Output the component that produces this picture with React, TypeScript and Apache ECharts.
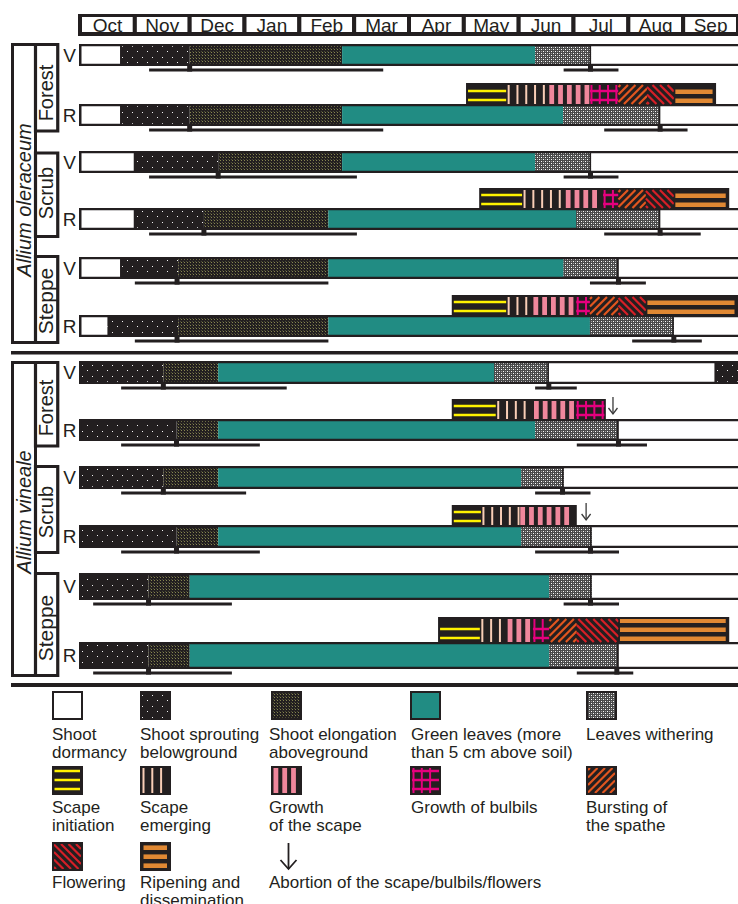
import React, { useEffect, useRef } from 'react';
import * as echarts from 'echarts';

// ---------- data ----------
const MONTHS = ['Oct', 'Nov', 'Dec', 'Jan', 'Feb', 'Mar', 'Apr', 'May', 'Jun', 'Jul', 'Aug', 'Sep'];
const SPECIES = ['Allium oleraceum', 'Allium vineale'];
const HABITATS = ['Forest', 'Scrub', 'Steppe'];
const ROW_TYPES = ['V', 'R', 'V', 'R', 'V', 'R', 'V', 'R', 'V', 'R', 'V', 'R'];

// phase codes: 0 dormancy, 1 sprouting, 2 elongation, 3 green leaves, 4 withering,
// 5 scape initiation, 6 scape emerging, 7 growth of scape, 8 bulbils, 9 bursting, 10 flowering, 11 ripening
const PHASE_LABELS = [
  'Shoot\ndormancy', 'Shoot sprouting\nbelowground', 'Shoot elongation\naboveground',
  'Green leaves (more\nthan 5 cm above soil)', 'Leaves withering',
  'Scape\ninitiation', 'Scape\nemerging', 'Growth\nof the scape', 'Growth of bulbils',
  'Bursting of\nthe spathe', 'Flowering', 'Ripening and\ndissemination',
];
const ABORTION_LABEL = 'Abortion of the scape/bulbils/flowers';

// vegetative phases per row: [start month, end month, phase] (months counted from 1 Oct)
const vegOleForestV = [[0.73, 2.0, 1], [2.0, 4.78, 2], [4.78, 8.3, 3], [8.3, 9.32, 4]];
const vegOleForestR = [[0.73, 2.0, 1], [2.0, 4.78, 2], [4.78, 8.81, 3], [8.81, 10.58, 4]];
const vegOleScrubV = [[0.98, 2.52, 1], [2.52, 4.78, 2], [4.78, 8.3, 3], [8.3, 9.32, 4]];
const vegOleScrubR = [[0.98, 2.26, 1], [2.26, 4.53, 2], [4.53, 9.05, 3], [9.05, 10.58, 4]];
const vegOleSteppeV = [[0.73, 1.79, 1], [1.79, 4.53, 2], [4.53, 8.82, 3], [8.82, 9.82, 4]];
const vegOleSteppeR = [[0.5, 1.79, 1], [1.79, 4.53, 2], [4.53, 9.3, 3], [9.3, 10.83, 4]];
const vegVinForestV = [[0, 1.52, 1], [1.52, 2.52, 2], [2.52, 7.55, 3], [7.55, 8.55, 4], [11.57, 12, 1]];
const vegVinForestR = [[0, 1.76, 1], [1.76, 2.52, 2], [2.52, 8.3, 3], [8.3, 9.82, 4]];
const vegVinScrubV = [[0, 1.52, 1], [1.52, 2.52, 2], [2.52, 8.05, 3], [8.05, 8.82, 4]];
const vegVinScrubR = [[0, 1.76, 1], [1.76, 2.52, 2], [2.52, 8.05, 3], [8.05, 9.33, 4]];
const vegVinSteppeV = [[0, 1.25, 1], [1.25, 2.0, 2], [2.0, 8.56, 3], [8.56, 9.33, 4]];
const vegVinSteppeR = [[0, 1.25, 1], [1.25, 2.0, 2], [2.0, 8.56, 3], [8.56, 9.82, 4]];
const VEG = [vegOleForestV, vegOleForestR, vegOleScrubV, vegOleScrubR, vegOleSteppeV, vegOleSteppeR,
  vegVinForestV, vegVinForestR, vegVinScrubV, vegVinScrubR, vegVinSteppeV, vegVinSteppeR];

// reproductive (scape) phases for R rows
const repOleForestR = [[7.04, 7.79, 5], [7.79, 8.55, 6], [8.55, 9.3, 7], [9.3, 9.82, 8], [9.82, 10.34, 9], [10.34, 10.83, 10], [10.83, 11.6, 11]];
const repOleScrubR = [[7.28, 8.08, 5], [8.08, 8.85, 6], [8.85, 9.54, 7], [9.54, 9.82, 8], [9.82, 10.32, 9], [10.32, 10.83, 10], [10.83, 11.84, 11]];
const repOleSteppeR = [[6.78, 7.79, 5], [7.79, 8.26, 6], [8.26, 9.05, 7], [9.05, 9.3, 8], [9.3, 9.82, 9], [9.82, 10.32, 10], [10.32, 12, 11]];
const repVinForestR = [[6.78, 7.6, 5], [7.6, 8.27, 6], [8.27, 9.05, 7], [9.05, 9.59, 8]];
const repVinScrubR = [[6.78, 7.33, 5], [7.33, 8.02, 6], [8.02, 9.06, 7]];
const repVinSteppeR = [[6.53, 7.31, 5], [7.31, 7.79, 6], [7.79, 8.26, 7], [8.26, 8.56, 8], [8.56, 9.06, 9], [9.06, 9.82, 10], [9.82, 11.84, 11]];
const REP: (number[][] | null)[] = [null, repOleForestR, null, repOleScrubR, null, repOleSteppeR,
  null, repVinForestR, null, repVinScrubR, null, repVinSteppeR];

// ranges [min, mean, max] of sprouting start and withering end
const sproutRange = [[1.26, 2.0, 5.53], [1.26, 2.0, 5.53], [1.26, 2.52, 5.05], [1.26, 2.26, 5.05], [1.0, 1.77, 4.53], [1.0, 1.77, 4.53],
  [0.75, 1.52, 3.77], [0.75, 1.76, 3.28], [0.75, 1.52, 3.03], [0.75, 1.76, 3.28], [0.24, 1.25, 2.77], [0.24, 1.25, 2.77]];
const witherRange = [[8.82, 9.31, 9.82], [9.56, 10.58, 11.08], [8.82, 9.31, 9.82], [9.56, 10.58, 11.32], [9.3, 9.82, 10.32], [10.07, 10.83, 11.34],
  [8.3, 8.55, 9.06], [9.06, 9.82, 10.34], [8.3, 8.8, 9.31], [8.3, 9.31, 9.83], [8.82, 9.31, 9.83], [9.06, 9.79, 10.09]];

// abortion arrows
const abortionRow = [7, 9];
const abortionMonth = [9.72, 9.23];

// ---------- layout (pixels) ----------
const ROW_TOP = [44, 104, 151, 208, 257, 315, 361, 419, 466, 525, 573, 642];
const ROW_BOTTOM = [66, 126, 173, 230, 279, 337, 384, 441, 489, 548, 600, 669];
const SCAPE_TOP = [0, 83, 0, 188, 0, 295, 0, 399, 0, 505, 0, 617];

const INK = '#231f20';
const TEAL = '#218c83';
const YELLOW = '#fff200';
const PALE = '#f8cdb6';
const PINK = '#f0879c';
const MAGENTA = '#e6007e';
const ORANGE_D = '#e2561f';
const RED_D = '#d71f27';
const RIPE = '#e08833';
const FONT = '"Liberation Sans", Arial, Helvetica, sans-serif';

function pattern(w: number, h: number, draw: (c: CanvasRenderingContext2D) => void) {
  const cv = document.createElement('canvas');
  cv.width = w; cv.height = h;
  const ctx = cv.getContext('2d')!;
  draw(ctx);
  return { image: cv.toDataURL(), repeat: 'repeat', imageWidth: w, imageHeight: h };
}

function makeDecorator(P: any) {
  const R = (x: number, y: number, w: number, h: number, fill: any) =>
    ({ type: 'rect', shape: { x, y, width: Math.max(0, w), height: Math.max(0, h) }, style: { fill }, silent: true });
  const L = (x1: number, y1: number, x2: number, y2: number, stroke: string, lw: number) =>
    ({ type: 'line', shape: { x1, y1, x2, y2 }, style: { stroke, lineWidth: lw }, silent: true });
  const hLines = (y0: number, y1: number) => {
    const ys: number[] = [];
    for (let yc = y1 - 4; yc - 1.25 >= y0; yc -= 9) ys.push(yc);
    return ys;
  };
  const diag = (x0: number, y0: number, x1: number, y1: number, dir: number, color: string, out: any[]) => {
    const step = 7.5, lw = 2.2;
    if (dir > 0) {
      for (let c = x0 + y0 + 2; c < x1 + y1; c += step) {
        const xa = Math.max(x0, c - y1), xb = Math.min(x1, c - y0);
        if (xb - xa > 0.5) out.push(L(xa, c - xa, xb, c - xb, color, lw));
      }
    } else {
      for (let c = x0 - y1 + 2; c < x1 - y0; c += step) {
        const xa = Math.max(x0, c + y0), xb = Math.min(x1, c + y1);
        if (xb - xa > 0.5) out.push(L(xa, xa - c, xb, xb - c, color, lw));
      }
    }
  };
  return function decorate(ph: number, x0: number, y0: number, x1: number, y1: number) {
    const w = x1 - x0, h = y1 - y0;
    const out: any[] = [];
    if (w <= 0 || h <= 0) return out;
    if (ph === 0) { out.push(R(x0, y0, w, h, '#ffffff')); return out; }
    if (ph === 3) { out.push(R(x0, y0, w, h, TEAL)); return out; }
    out.push(R(x0, y0, w, h, INK));
    switch (ph) {
      case 1: out.push(R(x0, y0, w, h, P.dots)); break;
      case 2: out.push(R(x0, y0, w, h, P.olive)); break;
      case 4: out.push(R(x0, y0, w, h, P.wither)); break;
      case 5: hLines(y0, y1).forEach((yc) => out.push(R(x0 + 0.5, yc - 1.25, w - 1.5, 2.5, YELLOW))); break;
      case 6: for (let x = x0 + 0.5; x + 2 <= x1; x += 8.8) out.push(R(x, y0, 2, h, PALE)); break;
      case 7: for (let x = x0 + 0.5; x + 4 <= x1; x += 8.8) out.push(R(x, y0, Math.min(4.8, x1 - x), h, PINK)); break;
      case 8:
        for (let x = x0 + 0.5; x + 2 <= x1; x += 8.3) out.push(R(x, y0, 2, h, MAGENTA));
        hLines(y0, y1).forEach((yc) => out.push(R(x0, yc - 1.25, w, 2.5, MAGENTA)));
        break;
      case 9: diag(x0, y0, x1, y1, 1, ORANGE_D, out); break;
      case 10: diag(x0, y0, x1, y1, -1, RED_D, out); break;
      case 11:
        for (let yc = y1 - 3.3; yc + 2.3 > y0; yc -= 9) {
          const t = Math.max(y0, yc - 2.3), b = Math.min(y1 - 0.5, yc + 2.3);
          if (b > t) out.push(R(x0 + 1.5, t, w - 3.5, b - t, RIPE));
        }
        break;
    }
    return out;
  };
}

export default function App() {
  const ref = useRef<HTMLDivElement>(null);
  useEffect(() => {
    if (!ref.current) return;
    const chart = echarts.init(ref.current, null, { renderer: 'svg' });

    const P = {
      dots: pattern(10, 11, (c) => { c.fillStyle = '#f2f2f2'; c.fillRect(2, 2, 1, 1); c.fillRect(7, 7, 1, 1); }),
      olive: pattern(3, 3, (c) => { c.fillStyle = '#85854f'; c.fillRect(1, 1, 1, 1); c.fillStyle = '#4e4e35'; c.fillRect(0, 0, 1, 1); }),
      wither: pattern(4, 4, (c) => {
        c.fillStyle = '#4a4a4a'; c.fillRect(0, 0, 4, 4);
        c.fillStyle = '#ffffff'; c.fillRect(1, 1, 1, 1); c.fillRect(3, 3, 1, 1);
        c.fillStyle = '#a0a0a0'; c.fillRect(1, 3, 1, 1); c.fillRect(3, 1, 1, 1);
      }),
    };
    const decorate = makeDecorator(P);

    const textStyle = (text: string, font: string, align = 'center', vAlign = 'middle', extra: any = {}) => ({
      text, font, fill: INK, align, verticalAlign: vAlign, textAlign: align, textVerticalAlign: vAlign, ...extra,
    });

    const vegData = VEG.flatMap((segs, r) => segs.map((s) => [s[0], s[1], r, s[2]]));
    const scapeExt: (number[] | null)[] = REP.map((segs) => (segs ? [segs[0][0], segs[segs.length - 1][1]] : null));
    const frameData = scapeExt.map((e, r) => (e ? [e[0], e[1], r] : null)).filter(Boolean);
    const scapeData = REP.flatMap((segs, r) => (segs ? segs.map((s) => [s[0], s[1], r, s[2]]) : []));
    const rangeData = sproutRange.map((a, r) => [a[0], a[1], a[2], r]).concat(witherRange.map((a, r) => [a[0], a[1], a[2], r]));
    const arrowData = abortionRow.map((r, i) => [abortionMonth[i], r]);
    const rowData = ROW_TYPES.map((_, i) => [0, i]);
    const monthData = MONTHS.map((_, i) => [i, i + 1]);

    const X = (api: any, m: number) => api.coord([m, 0])[0];
    const Y = (api: any, v: number) => api.coord([0, v])[1];

    // ----- graphic: brackets, separators, legend -----
    const G: any[] = [];
    const strokeRect = (x: number, y: number, w: number, h: number, lw: number) =>
      ({ type: 'rect', shape: { x, y, width: w, height: h }, style: { fill: 'none', stroke: INK, lineWidth: lw }, silent: true });
    G.push({ type: 'rect', shape: { x: 11, y: 351, width: 730, height: 3.5 }, style: { fill: INK } });
    G.push({ type: 'rect', shape: { x: 11, y: 683, width: 730, height: 4 }, style: { fill: INK } });
    const groups = [
      { top: 44.5, bottom: 342.5, habs: [[44.5, 131], [153, 236.5], [256.5, 342.5]], textY: 200, habTextY: [93, 193, 301] },
      { top: 362.5, bottom: 675.5, habs: [[362.5, 446], [466.5, 552.5], [573.5, 675.5]], textY: 512, habTextY: [408, 512, 628] },
    ];
    const habFont = [20, 20, 21];
    groups.forEach((g, si) => {
      G.push(strokeRect(12.5, g.top, 23, g.bottom - g.top, 3));
      g.habs.forEach((hb, hi) => {
        G.push(strokeRect(35.5, hb[0], 22.25, hb[1] - hb[0], 3.2));
        G.push({ type: 'text', x: 45.5, y: g.habTextY[hi], rotation: Math.PI / 2, silent: true,
          style: textStyle(HABITATS[hi], `${habFont[hi]}px ${FONT}`) });
      });
      G.push({ type: 'text', x: 24, y: g.textY, rotation: Math.PI / 2, silent: true,
        style: textStyle(SPECIES[si], `italic 20px ${FONT}`) });
    });

    const LEG_COL_X = [53, 141, 272, 411, 587];
    const LEG_TEXT_X = [52, 140, 269, 411, 586];
    const LEG_ROW_Y = [692, 767, 843];
    const LEG_TEXT_Y = [734, 807, 882];
    const legendLabels = PHASE_LABELS.concat([ABORTION_LABEL]);
    legendLabels.forEach((lab, i) => {
      const col = i % 5, row = Math.floor(i / 5);
      const x = LEG_COL_X[col], y = LEG_ROW_Y[row];
      if (i < 12) {
        decorate(i, x + 1, y + 1, x + 28, y + 26).forEach((e) => G.push(e));
        G.push(strokeRect(x, y, 29, 27, 2));
      } else {
        const ax = 288.5;
        G.push({ type: 'line', shape: { x1: ax, y1: y, x2: ax, y2: y + 26 }, style: { stroke: INK, lineWidth: 1.8 } });
        G.push({ type: 'polyline', shape: { points: [[ax - 8, y + 17], [ax, y + 26], [ax + 8, y + 17]] }, style: { stroke: INK, lineWidth: 1.8, fill: 'none' } });
      }
      G.push({ type: 'text', x: LEG_TEXT_X[col], y: LEG_TEXT_Y[row] - 9.25, silent: true,
        style: textStyle(lab, `17px ${FONT}`, 'left', 'top', { lineHeight: 18.5 }) });
    });

    const option: any = {
      animation: false,
      backgroundColor: '#ffffff',
      grid: { left: 80, right: 0, top: 0, bottom: 0 },
      xAxis: { type: 'value', min: 0, max: 12, show: false },
      yAxis: { type: 'value', min: 0, max: 904, inverse: true, show: false },
      graphic: { elements: G },
      series: [
        { // header
          type: 'custom', name: 'months', data: monthData, silent: true,
          renderItem: (p: any, api: any) => {
            const i = api.value(0);
            const x0 = X(api, api.value(0)), x1 = X(api, api.value(1));
            return { type: 'group', children: [
              { type: 'rect', shape: { x: x0 - 2, y: Y(api, 14), width: x1 - x0 + 4, height: 22 }, style: { fill: INK } },
              { type: 'rect', shape: { x: x0 + 2, y: Y(api, 17), width: x1 - x0 - 4, height: 15 }, style: { fill: '#fff' } },
              { type: 'text', x: (x0 + x1) / 2, y: Y(api, 25), style: textStyle(MONTHS[i], `19px ${FONT}`) },
            ] };
          },
        },
        { // row backgrounds + labels
          type: 'custom', name: 'rowsBg', data: rowData, silent: true,
          renderItem: (p: any, api: any) => {
            const r = api.value(1);
            const xl = X(api, 0), xr = X(api, 12);
            const yt = Y(api, ROW_TOP[r]), yb = Y(api, ROW_BOTTOM[r]);
            return { type: 'group', children: [
              { type: 'rect', shape: { x: xl, y: yt, width: xr - xl + 4, height: yb - yt }, style: { fill: '#fff' } },
              { type: 'text', x: xl - 10.5, y: (yt + yb) / 2, style: textStyle(ROW_TYPES[r], `19px ${FONT}`) },
            ] };
          },
        },
        { // vegetative phases
          type: 'custom', name: 'vegetative', data: vegData, silent: true,
          renderItem: (p: any, api: any) => {
            const r = api.value(2), ph = api.value(3);
            const x0 = X(api, api.value(0)), x1 = X(api, api.value(1));
            const y0 = Y(api, ROW_TOP[r] + 2), y1 = Y(api, ROW_BOTTOM[r] - 2);
            const ch = decorate(ph, x0, y0, x1, y1);
            if (ph === 4) ch.push({ type: 'rect', shape: { x: x1 - 1.5, y: y0, width: 1.5, height: y1 - y0 }, style: { fill: INK } });
            return { type: 'group', children: ch };
          },
        },
        { // row borders
          type: 'custom', name: 'rowsBorder', data: rowData, silent: true,
          renderItem: (p: any, api: any) => {
            const r = api.value(1);
            const xl = X(api, 0), xr = X(api, 12);
            const yt = Y(api, ROW_TOP[r]), yb = Y(api, ROW_BOTTOM[r]);
            return { type: 'group', children: [
              { type: 'rect', shape: { x: xl - 1, y: yt, width: xr - xl + 6, height: 2.2 }, style: { fill: INK } },
              { type: 'rect', shape: { x: xl - 1, y: yb - 2.2, width: xr - xl + 6, height: 2.2 }, style: { fill: INK } },
              { type: 'rect', shape: { x: xl - 1, y: yt, width: 2.5, height: yb - yt }, style: { fill: INK } },
            ] };
          },
        },
        { // scape frames
          type: 'custom', name: 'scapeFrame', data: frameData, silent: true,
          renderItem: (p: any, api: any) => {
            const r = api.value(2);
            const x0 = X(api, api.value(0)), x1 = X(api, api.value(1));
            const yt = Y(api, SCAPE_TOP[r]), yb = Y(api, ROW_TOP[r] + 1);
            return { type: 'rect', shape: { x: x0, y: yt, width: x1 - x0, height: yb - yt }, style: { fill: INK } };
          },
        },
        { // scape phases
          type: 'custom', name: 'reproductive', data: scapeData, silent: true,
          renderItem: (p: any, api: any) => {
            const r = api.value(2), ph = api.value(3);
            const ext = scapeExt[r]!;
            const fx0 = X(api, ext[0]) + 1.5, fx1 = X(api, ext[1]) - 1.5;
            const x0 = Math.max(fx0, X(api, api.value(0))), x1 = Math.min(fx1, X(api, api.value(1)));
            const y0 = Y(api, SCAPE_TOP[r] + 2), y1 = Y(api, ROW_TOP[r]);
            return { type: 'group', children: decorate(ph, x0, y0, x1, y1) };
          },
        },
        { // ranges
          type: 'custom', name: 'ranges', data: rangeData, silent: true,
          renderItem: (p: any, api: any) => {
            const r = api.value(3);
            const x0 = X(api, api.value(0)), xm = X(api, api.value(1)), x1 = X(api, api.value(2));
            const b = ROW_BOTTOM[r];
            return { type: 'group', children: [
              { type: 'rect', shape: { x: x0, y: Y(api, b + 2.6), width: x1 - x0, height: 3 }, style: { fill: INK } },
              { type: 'rect', shape: { x: xm - 2.5, y: Y(api, b - 1), width: 5, height: 6.6 }, style: { fill: INK } },
            ] };
          },
        },
        { // abortion arrows
          type: 'custom', name: 'abortion', data: arrowData, silent: true,
          renderItem: (p: any, api: any) => {
            const r = api.value(1);
            const x = X(api, api.value(0));
            const yt = Y(api, SCAPE_TOP[r] - 2), yb = Y(api, SCAPE_TOP[r] + 15);
            return { type: 'group', children: [
              { type: 'line', shape: { x1: x, y1: yt, x2: x, y2: yb }, style: { stroke: '#3a3a3a', lineWidth: 1.3 } },
              { type: 'polyline', shape: { points: [[x - 4.5, yb - 6], [x, yb], [x + 4.5, yb - 6]] }, style: { stroke: '#3a3a3a', lineWidth: 1.3, fill: 'none' } },
            ] };
          },
        },
      ],
    };
    chart.setOption(option);
    return () => chart.dispose();
  }, []);
  return <div ref={ref} style={{ position: 'fixed', left: 0, top: 0, width: 738, height: 904, background: '#fff' }} />;
}
